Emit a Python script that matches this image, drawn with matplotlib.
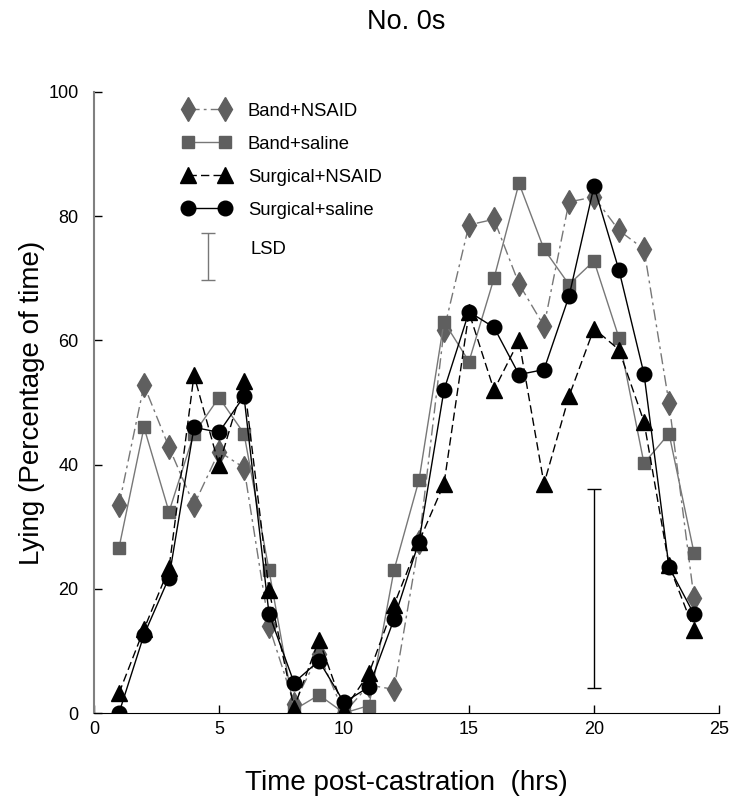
import matplotlib
matplotlib.use("Agg")
import matplotlib.pyplot as plt

plt.rcParams['font.family'] = ['Liberation Sans', 'DejaVu Sans']

hours = list(range(1, 25))

band_nsaid = [33.5, 52.8, 42.8, 33.5, 42.1, 39.5, 14.0, 1.5, 9.5, 0.0, 4.5, 3.8,
              27.5, 61.7, 78.6, 79.5, 69.1, 62.3, 82.3, 83.1, 77.7, 74.7, 49.9, 18.5]
band_saline = [26.6, 46.0, 32.4, 45.0, 50.8, 45.0, 23.0, 0.5, 2.9, 0.0, 1.2, 23.0,
               37.5, 63.0, 56.6, 70.0, 85.3, 74.7, 69.0, 72.8, 60.4, 40.2, 45.0, 25.8]
surg_nsaid = [3.2, 13.5, 23.3, 54.4, 39.9, 53.4, 19.8, 0.8, 11.8, 0.5, 6.4, 17.4,
              27.6, 36.9, 64.5, 52.0, 60.0, 36.9, 51.0, 61.9, 58.5, 46.9, 23.8, 13.4]
surg_saline = [0.0, 12.6, 21.8, 46.0, 45.2, 51.0, 16.0, 4.9, 8.4, 1.7, 4.2, 15.1,
               27.6, 52.0, 64.6, 62.1, 54.5, 55.3, 67.1, 84.8, 71.3, 54.6, 23.5, 15.9]

labels = ["Band+NSAID", "Band+saline", "Surgical+NSAID", "Surgical+saline"]

# LSD bar (x position, low, high)
lsd_x = 20
lsd_low, lsd_high = 4.0, 36.0

gray = "#5f5f5f"
gray_line = "#777777"

fig = plt.figure(figsize=(7.29, 8.0), dpi=100)
ax = fig.add_axes([94 / 729, 87 / 800, 625 / 729, 621 / 800])

ax.plot(hours, band_nsaid, color=gray_line, lw=1, dashes=(8, 3, 2, 3),
        marker="d", ms=12, mfc=gray, mec=gray, label=labels[0])
ax.plot(hours, band_saline, color=gray_line, lw=1, ls="-",
        marker="s", ms=8.4, mfc=gray, mec=gray, label=labels[1])
ax.plot(hours, surg_nsaid, color="black", lw=1, dashes=(6, 3),
        marker="^", ms=11, mfc="black", mec="black", label=labels[2])
ax.plot(hours, surg_saline, color="black", lw=1, ls="-",
        marker="o", ms=10.5, mfc="black", mec="black", label=labels[3])

# LSD bar on the data
ax.errorbar([lsd_x], [(lsd_low + lsd_high) / 2], yerr=[(lsd_high - lsd_low) / 2],
            fmt="none", ecolor="black", elinewidth=1, capsize=5, capthick=1)

leg = ax.legend(loc="upper left", bbox_to_anchor=(0.142, 0.983), frameon=False,
                numpoints=2, handlelength=2.6, handletextpad=0.92,
                labelspacing=0.87, borderpad=0, borderaxespad=0,
                prop={"size": 13.3})

# LSD entry of the legend
ax.errorbar([0.182], [0.735], yerr=[0.038],
            fmt="none", ecolor=gray_line, elinewidth=1, capsize=5, capthick=1,
            transform=ax.transAxes, clip_on=False)
ax.text(0.251, 0.747, "LSD", transform=ax.transAxes, fontsize=13.3,
        ha="left", va="center")

ax.set_xlim(0, 25)
ax.set_ylim(0, 100)
ax.set_xticks([0, 5, 10, 15, 20, 25])
ax.set_yticks([0, 20, 40, 60, 80, 100])
ax.tick_params(direction="in", length=6, width=1, labelsize=13)
ax.tick_params(axis="x", pad=6)
ax.tick_params(axis="y", pad=11)

ax.spines["top"].set_visible(False)
ax.spines["right"].set_visible(False)
ax.spines["left"].set_color("#808080")
ax.spines["left"].set_linewidth(1.5)
ax.spines["bottom"].set_color("black")

ax.set_xlabel("Time post-castration  (hrs)", fontsize=20, labelpad=23)
ax.set_ylabel("Lying (Percentage of time)", fontsize=20, labelpad=2.5)
fig.text(406.5 / 729, 1 - 22 / 800, "No. 0s", fontsize=19.5, ha="center", va="center")

fig.savefig("out.png", dpi=100)
